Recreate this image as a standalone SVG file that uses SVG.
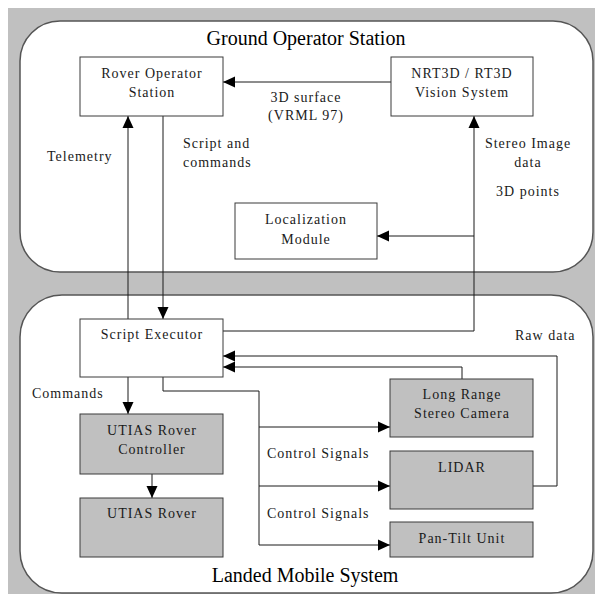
<svg xmlns="http://www.w3.org/2000/svg" width="595" height="597" viewBox="0 0 595 597">
  <style>
    .panel { fill: #ffffff; stroke: #555555; stroke-width: 1.5; }
    .box { fill: #ffffff; stroke: #3a3a3a; stroke-width: 1; }
    .box.hw { fill: #c0c0c0; }
    .title { font-family: "Liberation Serif", "Times New Roman", serif; font-size: 20px; fill: #000; text-anchor: middle; }
    .t { font-family: "Liberation Serif", "Times New Roman", serif; font-size: 14px; letter-spacing: 1px; fill: #1a1a1a; }
    .c { text-anchor: middle; }
    .wire { fill: none; stroke: #1a1a1a; stroke-width: 1; }
  </style>
  <defs>
    <marker id="arrow" markerUnits="userSpaceOnUse" markerWidth="13" markerHeight="12" refX="12" refY="6" orient="auto">
      <path d="M0,0.5 L12,6 L0,11.5 Z" fill="#000"/>
    </marker>
  </defs>

  <!-- background -->
  <rect x="8" y="8" width="587" height="586" fill="#c0c0c0"/>

  <!-- station panels -->
  <g id="ground-station">
    <rect class="panel" x="20" y="21" width="573" height="251" rx="40" ry="40"/>
    <text class="title" x="306" y="45">Ground Operator Station</text>
  </g>
  <g id="mobile-system">
    <rect class="panel" x="20" y="295" width="573" height="298" rx="42" ry="42"/>
    <text class="title" x="305" y="582">Landed Mobile System</text>
  </g>

  <!-- connectors -->
  <g id="connectors">
    <path class="wire" d="M391,82 H223" marker-end="url(#arrow)"/>
    <path class="wire" d="M128,319 V116" marker-end="url(#arrow)"/>
    <path class="wire" d="M163,116 V319" marker-end="url(#arrow)"/>
    <path class="wire" d="M223,331 H474 V116" marker-end="url(#arrow)"/>
    <path class="wire" d="M474,236 H377" marker-end="url(#arrow)"/>
    <path class="wire" d="M533,486 H557 V356 H223" marker-end="url(#arrow)"/>
    <path class="wire" d="M462,379 V367 H223" marker-end="url(#arrow)"/>
    <path class="wire" d="M163,377 V391 H259 V545 H390" marker-end="url(#arrow)"/>
    <path class="wire" d="M259,427 H390" marker-end="url(#arrow)"/>
    <path class="wire" d="M259,486 H390" marker-end="url(#arrow)"/>
    <path class="wire" d="M128,377 V414" marker-end="url(#arrow)"/>
    <path class="wire" d="M152,474 V498" marker-end="url(#arrow)"/>

    <text class="t c" x="306" y="102">3D surface</text>
    <text class="t c" x="306" y="120">(VRML 97)</text>
    <text class="t" x="47" y="161">Telemetry</text>
    <text class="t" x="183" y="148">Script and</text>
    <text class="t" x="183" y="167">commands</text>
    <text class="t c" x="528" y="148">Stereo Image</text>
    <text class="t c" x="528" y="167">data</text>
    <text class="t c" x="528" y="196">3D points</text>
    <text class="t" x="32" y="398">Commands</text>
    <text class="t" x="267" y="458">Control Signals</text>
    <text class="t" x="267" y="518">Control Signals</text>
    <text class="t" x="515" y="340">Raw data</text>
  </g>

  <!-- nodes -->
  <g id="rover-operator-station">
    <rect class="box" x="80" y="57" width="143" height="59"/>
    <text class="t c" x="152" y="78">Rover Operator</text>
    <text class="t c" x="152" y="97">Station</text>
  </g>
  <g id="vision-system">
    <rect class="box" x="391" y="57" width="142" height="59"/>
    <text class="t c" x="462" y="78">NRT3D / RT3D</text>
    <text class="t c" x="462" y="97">Vision System</text>
  </g>
  <g id="localization-module">
    <rect class="box" x="235" y="203" width="142" height="56"/>
    <text class="t c" x="306" y="224">Localization</text>
    <text class="t c" x="306" y="244">Module</text>
  </g>
  <g id="script-executor">
    <rect class="box" x="80" y="319" width="143" height="58"/>
    <text class="t c" x="152" y="339">Script Executor</text>
  </g>
  <g id="rover-controller">
    <rect class="box hw" x="80" y="414" width="143" height="60"/>
    <text class="t c" x="152" y="435">UTIAS Rover</text>
    <text class="t c" x="152" y="454">Controller</text>
  </g>
  <g id="rover">
    <rect class="box hw" x="80" y="498" width="143" height="59"/>
    <text class="t c" x="152" y="518">UTIAS Rover</text>
  </g>
  <g id="stereo-camera">
    <rect class="box hw" x="390" y="379" width="143" height="58"/>
    <text class="t c" x="462" y="399">Long Range</text>
    <text class="t c" x="462" y="418">Stereo Camera</text>
  </g>
  <g id="lidar">
    <rect class="box hw" x="390" y="451" width="143" height="58"/>
    <text class="t c" x="462" y="472">LIDAR</text>
  </g>
  <g id="pan-tilt-unit">
    <rect class="box hw" x="390" y="522" width="143" height="35"/>
    <text class="t c" x="462" y="543">Pan-Tilt Unit</text>
  </g>
</svg>
